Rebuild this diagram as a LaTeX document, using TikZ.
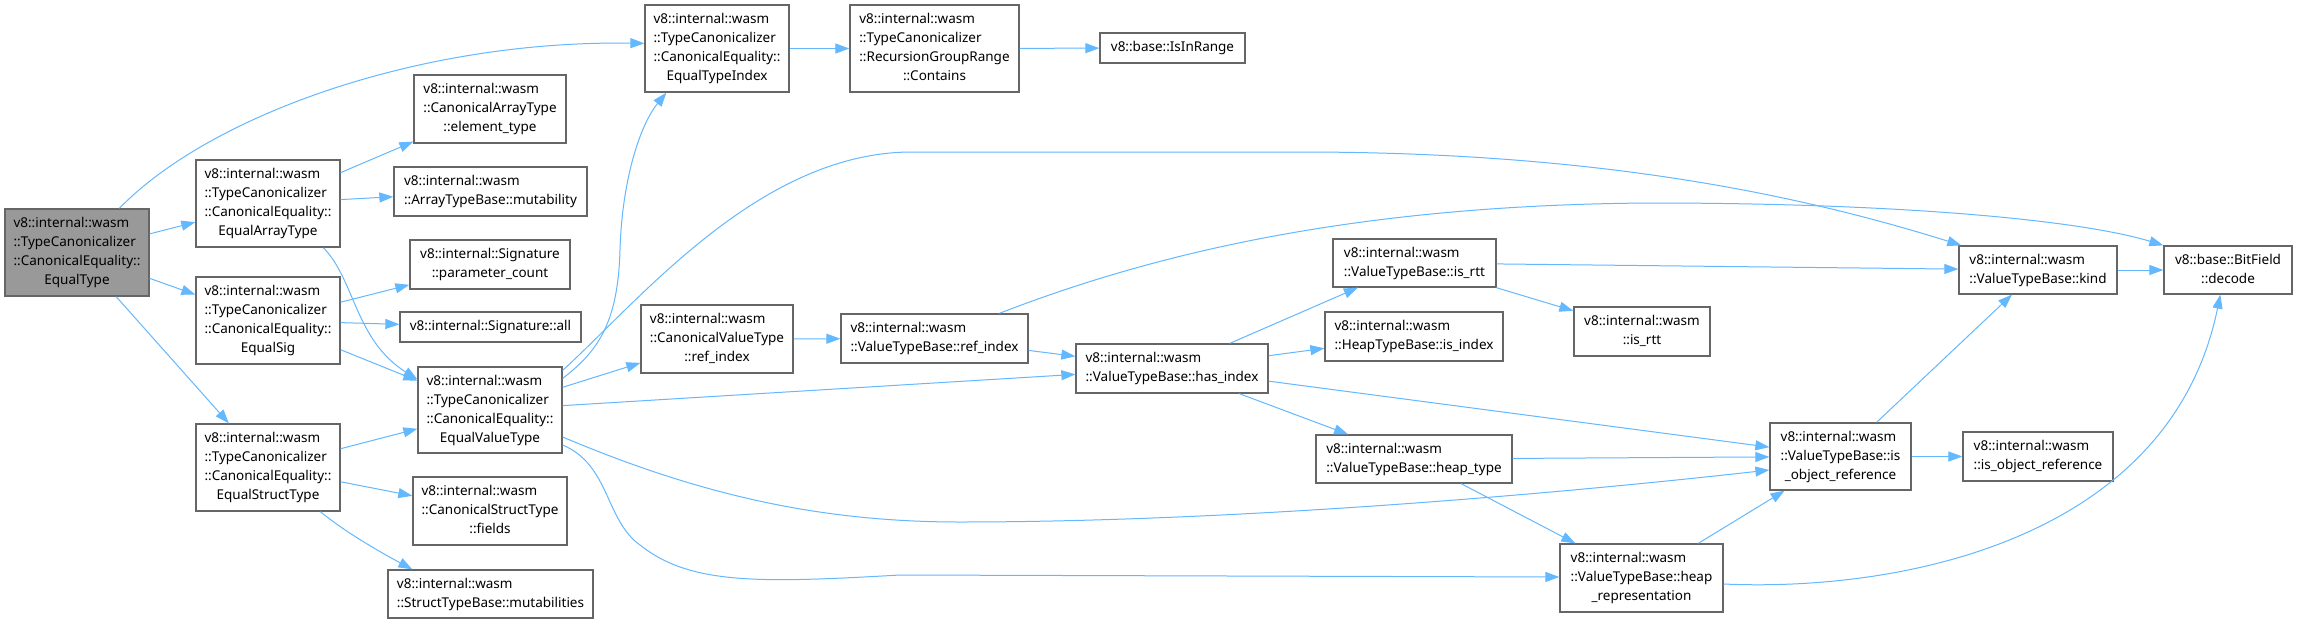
\documentclass[tikz,border=0pt]{standalone}
\usepackage{fontspec}
\setmainfont{Noto Sans}
\usetikzlibrary{arrows.meta,calc}
\definecolor{edgeblue}{HTML}{63B8FF}
\definecolor{boxgray}{HTML}{666666}
\definecolor{rootfill}{HTML}{999999}
\newcommand\lastln[1]{\multicolumn{1}{@{}c@{}}{#1}}
\newcommand\txtblk[1]{\begin{tabular}{@{}l@{}}#1\end{tabular}}
\tikzset{
  box/.style={draw=boxgray, line width=1.3pt, fill=white, inner sep=0pt,
    font=\fontsize{13.5}{19}\selectfont},
  rootbox/.style={box, fill=rootfill},
  edge/.style={draw=edgeblue, line width=1pt, -{Triangle[length=14pt,width=10pt]}, fill=none},
}
\begin{document}
\begin{tikzpicture}[x=1pt,y=-1pt]
\fill[white] (0,0) rectangle (2297,624);
\useasboundingbox (0,0) rectangle (2297,624);

% rank 0
\node[rootbox, minimum width=144pt, minimum height=87pt] (et) at (77,252.5)
  {\txtblk{v8::internal::wasm\\::TypeCanonicalizer\\::CanonicalEquality::\\\lastln{EqualType}}};
% rank 1
\node[box, minimum width=144pt, minimum height=87pt] (eat) at (268,203.5)
  {\txtblk{v8::internal::wasm\\::TypeCanonicalizer\\::CanonicalEquality::\\\lastln{EqualArrayType}}};
\node[box, minimum width=144pt, minimum height=87pt] (esig) at (268,320.5)
  {\txtblk{v8::internal::wasm\\::TypeCanonicalizer\\::CanonicalEquality::\\\lastln{EqualSig}}};
\node[box, minimum width=144pt, minimum height=87pt] (est) at (268,467.5)
  {\txtblk{v8::internal::wasm\\::TypeCanonicalizer\\::CanonicalEquality::\\\lastln{EqualStructType}}};
% rank 2
\node[box, minimum width=152pt, minimum height=68pt] (elt) at (490,109)
  {\txtblk{v8::internal::wasm\\::CanonicalArrayType\\\lastln{::element\_type}}};
\node[box, minimum width=193pt, minimum height=49pt] (mut) at (490.5,191.5)
  {\txtblk{v8::internal::wasm\\\lastln{::ArrayTypeBase::mutability}}};
\node[box, minimum width=160pt, minimum height=49pt] (pc) at (490,264.5)
  {\txtblk{v8::internal::Signature\\\lastln{::parameter\_count}}};
\node[box, minimum width=181pt, minimum height=30pt] (all) at (490.5,327)
  {\txtblk{\lastln{v8::internal::Signature::all}}};
\node[box, minimum width=144pt, minimum height=86pt] (evt) at (490,410)
  {\txtblk{v8::internal::wasm\\::TypeCanonicalizer\\::CanonicalEquality::\\\lastln{EqualValueType}}};
\node[box, minimum width=154pt, minimum height=68pt] (fld) at (490,511)
  {\txtblk{v8::internal::wasm\\::CanonicalStructType\\\lastln{::fields}}};
\node[box, minimum width=205pt, minimum height=48pt] (muts) at (490.5,594)
  {\txtblk{v8::internal::wasm\\\lastln{::StructTypeBase::mutabilities}}};
% rank 3
\node[box, minimum width=144pt, minimum height=87pt] (eti) at (717,48.5)
  {\txtblk{v8::internal::wasm\\::TypeCanonicalizer\\::CanonicalEquality::\\\lastln{EqualTypeIndex}}};
\node[box, minimum width=152pt, minimum height=68pt] (cvt) at (717,339)
  {\txtblk{v8::internal::wasm\\::CanonicalValueType\\\lastln{::ref\_index}}};
% rank 4
\node[box, minimum width=169pt, minimum height=87pt] (cont) at (934.5,48.5)
  {\txtblk{v8::internal::wasm\\::TypeCanonicalizer\\::RecursionGroupRange\\\lastln{::Contains}}};
\node[box, minimum width=187pt, minimum height=49pt] (vri) at (934.5,338.5)
  {\txtblk{v8::internal::wasm\\\lastln{::ValueTypeBase::ref\_index}}};
% rank 5
\node[box, minimum width=145pt, minimum height=30pt] (iir) at (1172.5,48)
  {\txtblk{\lastln{v8::base::IsInRange}}};
\node[box, minimum width=192pt, minimum height=49pt] (hi) at (1172,368.5)
  {\txtblk{v8::internal::wasm\\\lastln{::ValueTypeBase::has\_index}}};
% rank 6
\node[box, minimum width=163pt, minimum height=48pt] (irtt) at (1414.5,263)
  {\txtblk{v8::internal::wasm\\\lastln{::ValueTypeBase::is\_rtt}}};
\node[box, minimum width=178pt, minimum height=49pt] (iidx) at (1414,336.5)
  {\txtblk{v8::internal::wasm\\\lastln{::HeapTypeBase::is\_index}}};
\node[box, minimum width=196pt, minimum height=48pt] (ht) at (1414,459)
  {\txtblk{v8::internal::wasm\\\lastln{::ValueTypeBase::heap\_type}}};
% rank 7
\node[box, minimum width=136pt, minimum height=49pt] (wrtt) at (1642,331.5)
  {\txtblk{v8::internal::wasm\\\lastln{::is\_rtt}}};
\node[box, minimum width=163pt, minimum height=68pt] (hr) at (1641.5,578)
  {\txtblk{v8::internal::wasm\\::ValueTypeBase::heap\\\lastln{\_representation}}};
% rank 8
\node[box, minimum width=141pt, minimum height=67pt] (ior) at (1840.5,456.5)
  {\txtblk{v8::internal::wasm\\::ValueTypeBase::is\\\lastln{\_object\_reference}}};
% rank 9
\node[box, minimum width=158pt, minimum height=48pt] (kind) at (2038,270)
  {\txtblk{v8::internal::wasm\\\lastln{::ValueTypeBase::kind}}};
\node[box, minimum width=150pt, minimum height=49pt] (wior) at (2038,456.5)
  {\txtblk{v8::internal::wasm\\\lastln{::is\_object\_reference}}};
% rank 10
\node[box, minimum width=128pt, minimum height=48pt] (dec) at (2228,270)
  {\txtblk{v8::base::BitField\\\lastln{::decode}}};

% edges
\draw[edge] ($(et.north west)+(115,0)$) .. controls (210,115) and (420,40) .. ($(eti.north west)+(0,39)$);
\draw[edge] (et) -- (eat);
\draw[edge] (et) -- (esig);
\draw[edge] (et) -- (est);
\draw[edge] (eat) -- (elt);
\draw[edge] (eat) -- (mut);
\draw[edge] ($(eat.south west)+(128,0)$) .. controls (355,280) and (355,340) .. ($(evt.north west)+(0,13)$);
\draw[edge] (esig) -- (pc);
\draw[edge] (esig) -- (all);
\draw[edge] (esig) -- (evt);
\draw[edge] (est) -- (evt);
\draw[edge] (est) -- (fld);
\draw[edge] ($(est.south west)+(125,0)$) .. controls (345,532) and (380,552) .. ($(muts.north west)+(25,0)$);
% from EqualValueType
\draw[edge] ($(evt.north east)+(0,12)$) .. controls (600,350) and (618,320) .. (620,250)
  .. controls (622,180) and (640,125) .. ($(eti.south west)+(22,0)$);
\draw[edge] ($(evt.north east)+(0,4)$) .. controls (640,300) and (760,152) .. (912,152)
  -- (1300,152) .. controls (1600,152) and (1800,195) .. ($(kind.north west)+(3,0)$);
\draw[edge] (evt) -- (cvt);
\draw[edge] (evt) -- (hi);
\draw[edge] ($(evt.east)+(0,27)$) .. controls (700,495) and (820,522) .. (960,522)
  .. controls (1200,522) and (1500,500) .. ($(ior.west)+(0,13.5)$);
\draw[edge] ($(evt.east)+(0,35)$) .. controls (610,465) and (605,520) .. (640,545)
  .. controls (690,585) and (760,583) .. (900,575) -- ($(hr.west)+(0,-1)$);
% upper chain
\draw[edge] (eti) -- (cont);
\draw[edge] (cont) -- (iir);
\draw[edge] (cvt) -- (vri);
\draw[edge] (vri) -- (hi);
\draw[edge] ($(vri.north west)+(159,0)$) .. controls (1150,255) and (1350,205) .. (1650,203)
  .. controls (1900,203) and (2080,220) .. (dec.north west);
% from has_index
\draw[edge] (hi) -- (irtt);
\draw[edge] (hi) -- (iidx);
\draw[edge] (hi) -- (ior);
\draw[edge] (hi) -- (ht);
\draw[edge] (irtt) -- (kind);
\draw[edge] (irtt) -- (wrtt);
\draw[edge] (ht) -- (ior);
\draw[edge] (ht) -- (hr);
\draw[edge] (hr) -- (ior);
\draw[edge] ($(hr.east)+(0,6)$) .. controls (1900,592) and (2170,540) .. ($(dec.south west)+(57,0)$);
\draw[edge] (ior) -- (kind);
\draw[edge] (ior) -- (wior);
\draw[edge] (kind) -- (dec);
\end{tikzpicture}
\end{document}
